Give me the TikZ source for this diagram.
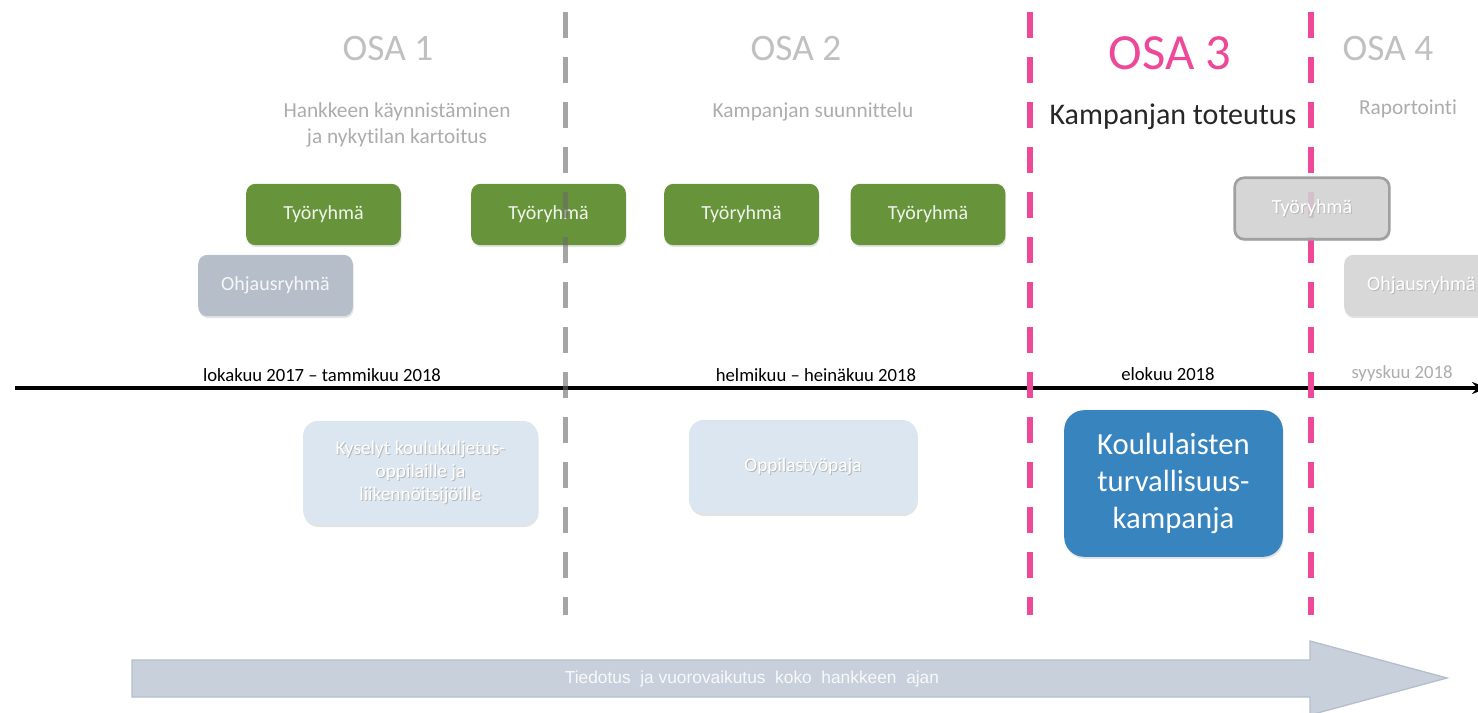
\documentclass[tikz,border=0pt]{standalone}
\usepackage{fontspec}
\setmainfont{Carlito}[Ligatures=NoCommon]
\newfontfamily\arialfont{Liberation Sans}
\usetikzlibrary{arrows.meta, positioning, shadows}

\definecolor{phasegrey}{RGB}{192,192,192}
\definecolor{subgrey}{RGB}{172,172,172}
\definecolor{sepgrey}{RGB}{105,105,105}
\definecolor{sepmagenta}{RGB}{238,72,152}
\definecolor{teamgreen}{RGB}{103,148,58}
\definecolor{steergrey}{RGB}{182,190,201}
\definecolor{palegrey}{RGB}{212,212,212}
\definecolor{paleborder}{RGB}{160,160,160}
\definecolor{paleblue}{RGB}{220,230,240}
\definecolor{campblue}{RGB}{56,132,191}
\definecolor{infofill}{RGB}{200,208,220}
\definecolor{infoedge}{RGB}{180,191,206}

% white text with a soft grey shadow
\newcommand\shtext[1]{\leavevmode\rlap{\kern0.7pt\raisebox{-0.9pt}{\color{black!28}#1}}#1}

\tikzset{
  phase/.style={anchor=base, text=phasegrey, font=\fontsize{28}{32}\selectfont},
  phasesub/.style={anchor=base, text=subgrey, align=center, font=\fontsize{16}{20}\selectfont},
  when/.style={anchor=base, font=\fontsize{14}{16}\selectfont},
  softshadow/.style={drop shadow={shadow xshift=0.6pt, shadow yshift=-1.5pt, opacity=0.22}},
  team/.style={rounded corners=7pt, inner sep=0pt, minimum width=116pt, minimum height=46pt,
    text height=1.6ex, text depth=0pt,
    fill=teamgreen, text=white!90!teamgreen, font=\fontsize{15}{18}\selectfont, softshadow},
  steer/.style={team, fill=steergrey, text=white!88!steergrey},
  pale/.style={rounded corners=11pt, inner sep=0pt, align=center, fill=paleblue, text=white,
    font=\fontsize{14.5}{17.5}\selectfont, softshadow},
  campaign/.style={rounded corners=15pt, inner sep=0pt, align=center, fill=campblue, text=white,
    minimum width=164pt, minimum height=110pt, font=\fontsize{23}{27.5}\selectfont, softshadow},
  timeline/.style={line width=2.6pt, -{Stealth[length=12pt, width=9pt]}},
  greysep/.style={line width=3.75pt, sepgrey, opacity=0.6, dash pattern=on 19.5pt off 14.25pt},
  pinksep/.style={line width=4.6pt, sepmagenta, dash pattern=on 19.5pt off 14.25pt},
}

\begin{document}
\begin{tikzpicture}[x=0.75pt, y=-0.75pt]
\useasboundingbox (0,0) rectangle (1478,713);

% phase headings
\node (osa1) [phase] at (388,61) {OSA 1};
\node (osa2) [phase] at (796,61) {OSA 2};
\node (osa3) [phase, text=sepmagenta, font=\fontsize{38}{44}\selectfont] at (1170,70) {OSA 3};
\node (osa4) [phase] at (1388,61) {OSA 4};

\node (sub1) [phasesub, anchor=center] at (397,125) {Hankkeen käynnistäminen\\ja nykytilan kartoitus};
\node (sub2) [phasesub] at (813,118) {Kampanjan suunnittelu};
\node (sub3) [phasesub, text=black!85, font=\fontsize{22.5}{26}\selectfont] at (1173,125) {Kampanjan toteutus};
\node (sub4) [phasesub] at (1408,115) {Raportointi};

% meetings
\node (tyo1) [team] at (323.5,214.5) {Työryhmä};
\node (tyo2) [team] at (548.5,214.5) {Työryhmä};
\node (tyo3) [team] at (741.5,214.5) {Työryhmä};
\node (tyo4) [team] at (928,214.5) {Työryhmä};
\node (ohj1) [steer] at (275.5,285.5) {Ohjausryhmä};
\node (ohj2) [steer, fill=palegrey!90!white, text=white] at (1421.5,285.5) {\shtext{Ohjausryhmä}};

% time axis
\coordinate (t0) at (15,388);
\coordinate (t1) at (1488,388);
\draw [timeline] (t0) -- (t1);
\node (d1) [when] at (322,381) {lokakuu 2017 – tammikuu 2018};
\node (d2) [when] at (816,381) {helmikuu – heinäkuu 2018};
\node (d3) [when] at (1168,380) {elokuu 2018};
\node (d4) [when, text=subgrey] at (1402,378) {syyskuu 2018};

% activities
\node (kysely) [pale, minimum width=176pt, minimum height=78pt] at (420.5,473)
  {\shtext{Kyselyt koulukuljetus-}\\\shtext{oppilaille ja}\\\shtext{liikennöitsijöille}};
\node (paja) [pale, minimum width=171pt, minimum height=70.5pt] at (803,467) {\shtext{Oppilastyöpaja}};
\node (kampanja) [campaign] at (1173.5,483.5) {Koululaisten\\turvallisuus-\\kampanja};

% phase borders
\coordinate (s1a) at (565,12);  \coordinate (s1b) at (565,615);
\coordinate (s2a) at (1030,12); \coordinate (s2b) at (1030,615);
\coordinate (s3a) at (1311,12); \coordinate (s3b) at (1311,615);
\draw [greysep] (s1a) -- (s1b);
\draw [pinksep] (s2a) -- (s2b);
\draw [pinksep] (s3a) -- (s3b);

\node (tyo5) [team, fill=palegrey, fill opacity=0.85, text opacity=1, draw=paleborder, line width=2pt, text=white]
  at (1312,208.5) {\shtext{Työryhmä}};

% communication arrow
\fill [infofill, draw=infoedge, line width=1pt]
  (132,660) -- (1310,660) -- (1310,641) -- (1447,678) -- (1310,715) -- (1310,697) -- (132,697) -- cycle;
\node (info) [text=white!88!infofill, font=\arialfont\fontsize{13}{15}\selectfont] at (752,679)
  {Tiedotus\ \ ja vuorovaikutus\ \ koko\ \ hankkeen\ \ ajan};
\end{tikzpicture}
\end{document}
